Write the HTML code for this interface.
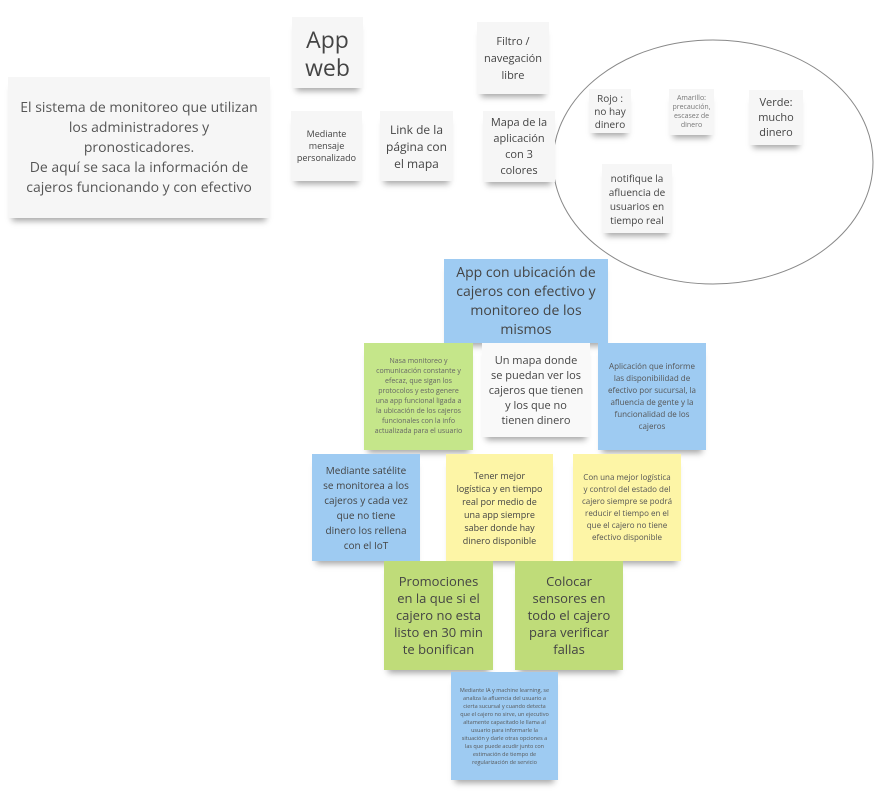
<!DOCTYPE html>
<html><head><meta charset="utf-8"><style>
body{margin:0;width:885px;height:807px;background:#fff;position:relative;overflow:hidden;font-family:"Open Sans","Liberation Sans","DejaVu Sans",sans-serif;}
.n{position:absolute;box-sizing:border-box;display:flex;align-items:center;justify-content:center;text-align:center;color:#444;box-shadow:0 7px 6px -4px rgba(0,0,0,.35);padding:4px 6px;}
.w{background:#f6f6f6;}
.b{background:#9ecbf2;}
.g{background:#c5e68a;}
.g2{background:#bfdc79;}
.y{background:#fdf5a6;}
</style></head><body>
<svg style="position:absolute;left:0;top:0" width="885" height="807"><ellipse cx="713" cy="162" rx="160" ry="122" fill="none" stroke="#888" stroke-width="1"/></svg>
<div class="n w" style="left:8px;top:77px;width:262px;height:141px;font-size:14px;line-height:20px;color:#555">El sistema de monitoreo que utilizan los administradores y pronosticadores.<br>De aquí se saca la información de cajeros funcionando y con efectivo</div>
<div class="n w" style="left:292px;top:17px;width:71px;height:71px;font-size:23px;line-height:28px;color:#444">App web</div>
<div class="n w" style="left:291px;top:111px;width:71px;height:70px;font-size:9px;line-height:12px;padding:2px">Mediante mensaje personalizado</div>
<div class="n w" style="left:380px;top:111px;width:73px;height:70px;font-size:12px;line-height:17px;padding:2px">Link de la página con el mapa</div>
<div class="n w" style="left:477px;top:22px;width:72px;height:72px;font-size:11px;line-height:17px;padding:2px">Filtro / navegación libre</div>
<div class="n w" style="left:483px;top:111px;width:72px;height:71px;font-size:11px;line-height:16px;padding:2px 6px">Mapa de la aplicación con 3 colores</div>
<div class="n w" style="left:589px;top:89px;width:42px;height:44px;font-size:10px;line-height:13px;padding:2px">Rojo : no hay dinero</div>
<div class="n w" style="left:669px;top:89px;width:45px;height:46px;font-size:7px;line-height:9px;padding:2px;color:#777">Amarillo: precaución, escasez de dinero</div>
<div class="n w" style="left:749px;top:90px;width:54px;height:55px;font-size:11px;line-height:15px;padding:2px 6px">Verde: mucho dinero</div>
<div class="n w" style="left:602px;top:164px;width:70px;height:69px;font-size:10px;line-height:14px;padding:2px">notifique la afluencia de usuarios en tiempo real</div>
<div class="n b" style="left:444px;top:259px;width:164px;height:84px;font-size:14px;line-height:19px;color:#444">App con ubicación de cajeros con efectivo y monitoreo de los mismos</div>
<div class="n g" style="left:364px;top:343px;width:109px;height:107px;font-size:7px;line-height:10px;color:#666;padding:4px 8px">Nasa monitoreo y comunicación constante y efecaz, que sigan los protocolos y esto genere una app funcional ligada a la ubicación de los cajeros funcionales con la info actualizada para el usuario</div>
<div class="n w" style="left:482px;top:343px;width:108px;height:94px;font-size:11px;line-height:15px;background:#f9f9f9;padding:4px 6px">Un mapa donde se puedan ver los cajeros que tienen y los que no tienen dinero</div>
<div class="n b" style="left:598px;top:343px;width:108px;height:107px;font-size:8px;line-height:12px;color:#555">Aplicación que informe las disponibilidad de efectivo por sucursal, la afluencia de gente y la funcionalidad de los cajeros</div>
<div class="n b" style="left:312px;top:454px;width:108px;height:107px;font-size:10px;line-height:15px;padding:4px 10px">Mediante satélite se monitorea a los cajeros y cada vez que no tiene dinero los rellena con el IoT</div>
<div class="n y" style="left:446px;top:454px;width:107px;height:107px;font-size:9px;line-height:13px;padding:4px 10px">Tener mejor logística y en tiempo real por medio de una app siempre saber donde hay dinero disponible</div>
<div class="n y" style="left:573px;top:454px;width:108px;height:107px;font-size:8px;line-height:12px;color:#555;padding:4px 8px">Con una mejor logística y control del estado del cajero siempre se podrá reducir el tiempo en el que el cajero no tiene efectivo disponible</div>
<div class="n g2" style="left:384px;top:561px;width:109px;height:109px;font-size:13px;line-height:17px">Promociones en la que si el cajero no esta listo en 30 min te bonifican</div>
<div class="n g2" style="left:515px;top:561px;width:108px;height:109px;font-size:13px;line-height:17px">Colocar sensores en todo el cajero para verificar fallas</div>
<div class="n b" style="left:451px;top:672px;width:107px;height:108px;font-size:5.5px;line-height:8px;color:#555;padding:4px 8px">Mediante IA y machine learning, se analiza la afluencia del usuario a cierta sucursal y cuando detecta que el cajero no sirve, un ejecutivo altamente capacitado le llama al usuario para informarle la situación y darle otras opciones a las que puede acudir junto con estimación de tiempo de regularización de servicio</div>
</body></html>
